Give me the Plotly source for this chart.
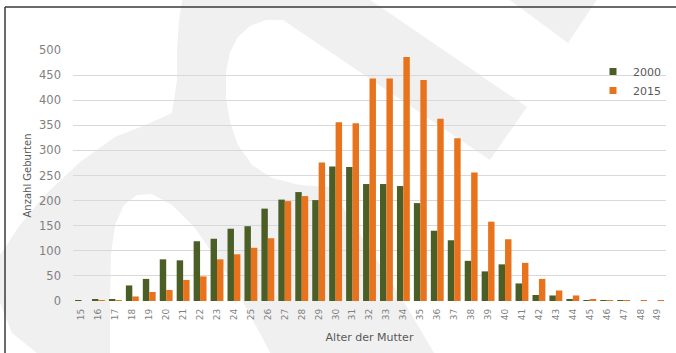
import plotly.graph_objects as go

# ---- data ----
ages = list(range(15, 50))
tick_labels = [str(a) for a in ages]
births_2000 = [1, 3, 4, 31, 44, 83, 81, 119, 124, 144, 149, 184, 202, 217, 201,
               268, 267, 233, 233, 229, 195, 140, 121, 80, 59, 73, 35, 12, 11,
               3, 2, 1, 1, 0, 0]
births_2015 = [0, 1, 1, 9, 18, 22, 42, 49, 83, 93, 106, 125, 199, 209, 276,
               356, 354, 443, 443, 486, 440, 363, 324, 256, 158, 123, 76, 44, 21,
               11, 3, 2, 2, 1, 1]
series_names = ["2000", "2015"]
colors = ["#4b5e26", "#e8731c"]

# ---- layout geometry (pixels) ----
W, H = 676, 353
L, R, T, B = 73, 10, 50, 52
PW, PH = W - L - R, H - T - B


def pp(x, y):
    return (x - L) / PW, (H - B - y) / PH


def path(pts):
    s = ""
    for i, (x, y) in enumerate(pts):
        px, py = pp(x, y)
        s += ("M" if i == 0 else "L") + f"{px:.4f},{py:.4f} "
    return s + "Z"


fig = go.Figure()
for name, vals, col in zip(series_names, [births_2000, births_2015], colors):
    fig.add_trace(go.Bar(x=ages, y=vals, name=name, marker_color=col,
                         marker_line_width=0, showlegend=False))
    fig.add_trace(go.Scatter(x=[None], y=[None], mode="markers", name=name,
                             marker=dict(symbol="square", size=7, color=col)))

gray = "#f0f0f0"
main_band = [(183, -5), (363, -5), (527, 107), (490, 160), (283, 20), (266, 20),
             (250, 26), (238, 37), (230, 52), (226, 72), (226, 98), (230, 122),
             (238, 145), (252, 165), (272, 178), (300, 185), (330, 187),
             (407, 307), (437, 358),
             (273, 358), (233, 283), (195, 228), (172, 205), (152, 194),
             (137, 195), (124, 205), (115, 225), (111, 255), (110, 300), (110, 358),
             (43, 358), (12, 333), (-5, 290), (0, 255), (20, 225), (45, 195),
             (80, 162), (115, 137), (150, 123), (172, 113), (177, 80), (177, 50),
             (179, 20)]
triangle = [(503, -5), (600, -5), (568, 43)]

shapes = []
for poly in (main_band, triangle):
    shapes.append(dict(type="path", xref="paper", yref="paper", path=path(poly),
                       fillcolor=gray, line=dict(width=0), layer="below"))
# frame lines (top and left)
x0, y0 = pp(5, 7)
x1, _ = pp(676, 7)
_, yb = pp(5, 360)
shapes.append(dict(type="line", xref="paper", yref="paper", x0=x0, y0=y0,
                   x1=x1, y1=y0, line=dict(color="#3a3a3a", width=1.5)))
shapes.append(dict(type="line", xref="paper", yref="paper", x0=x0, y0=y0,
                   x1=x0, y1=yb, line=dict(color="#3a3a3a", width=1.5)))

lx, ly = pp(593, 57)
fig.update_layout(
    width=W, height=H,
    margin=dict(l=L, r=R, t=T, b=B, pad=0),
    paper_bgcolor="white",
    plot_bgcolor="rgba(0,0,0,0)",
    barmode="group", bargap=0.24, bargroupgap=0,
    font=dict(family="DejaVu Sans", size=10, color="#595959"),
    shapes=shapes,
    legend=dict(x=lx, y=ly, xanchor="left", yanchor="top",
                bgcolor="rgba(0,0,0,0)", font=dict(size=11, color="#595959"),
                itemwidth=30, tracegroupgap=4),
    xaxis=dict(range=[14.5, 49.5], tickmode="array", tickvals=ages,
               ticktext=tick_labels, tickangle=-90, showgrid=False,
               zeroline=False, showline=False, ticks="",
               ticklabelstandoff=5,
               tickfont=dict(size=9, color="#7f7f7f"),
               title=dict(text="Alter der Mutter", standoff=14,
                          font=dict(size=11, color="#595959"))),
    yaxis=dict(range=[0, 500], tickvals=list(range(0, 501, 50)),
               showgrid=True, gridcolor="#d9d9d9", gridwidth=1,
               zeroline=False, showline=False, ticks="",
               ticklabelstandoff=11,
               tickfont=dict(size=11.5, color="#7f7f7f"),
               title=dict(text="Anzahl Geburten", standoff=5,
                          font=dict(size=10, color="#595959"))),
)

fig.write_html("out.html")
